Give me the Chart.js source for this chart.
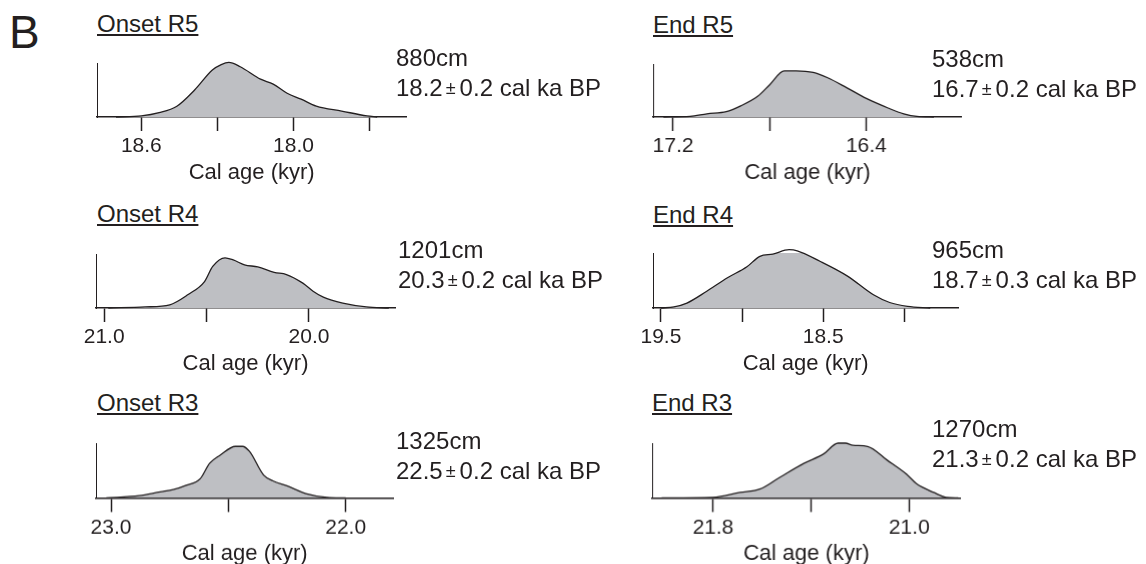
<!DOCTYPE html>
<html>
<head>
<title>Cal age probability</title>
<script src="https://cdn.jsdelivr.net/npm/chart.js"></script>
<style>
    body { margin: 0; background: #fff; font-family: "Liberation Sans", Arial, sans-serif; color: #231f20; }
    #page { position: relative; width: 1146px; height: 564px; overflow: hidden; }
    .panel { position: absolute; }
    .txt { position: absolute; white-space: nowrap; font-size: 24px; }
    .name { line-height: 24px; text-decoration: underline; text-decoration-thickness: 1.6px; text-underline-offset: 2px; }
    .note { line-height: 30px; }
    .pm { font-size: 18px; position: relative; top: -2px; padding: 0 4px 0 3px; }
    #letter { position: absolute; left: 9px; top: 9px; font-size: 46px; line-height: 46px; }
</style>
</head>
<body>
<div id="page">
    <div id="letter">B</div>
</div>
<script>
    // probability curves, age in kyr (old -> young) and relative density
    const onsetR5Age = [18.70, 18.60, 18.53, 18.46, 18.39, 18.32, 18.285, 18.255, 18.21, 18.13, 18.08, 18.025, 17.97, 17.91, 17.81, 17.71, 17.67];
    const onsetR5Den = [0, 0.02, 0.08, 0.20, 0.50, 0.87, 0.97, 1.01, 0.93, 0.70, 0.61, 0.44, 0.33, 0.20, 0.11, 0.02, 0];

    const endR5Age = [17.24, 17.13, 17.06, 16.98, 16.92, 16.85, 16.80, 16.74, 16.69, 16.62, 16.56, 16.48, 16.40, 16.31, 16.245, 16.19, 16.12];
    const endR5Den = [0, 0.01, 0.06, 0.10, 0.21, 0.39, 0.61, 0.87, 0.87, 0.84, 0.74, 0.55, 0.35, 0.17, 0.06, 0.01, 0];

    const onsetR4Age = [20.98, 20.80, 20.68, 20.59, 20.51, 20.47, 20.41, 20.37, 20.315, 20.25, 20.17, 20.11, 20.03, 19.98, 19.93, 19.835, 19.72, 19.61];
    const onsetR4Den = [0, 0.02, 0.06, 0.25, 0.49, 0.77, 0.93, 0.89, 0.80, 0.76, 0.66, 0.62, 0.46, 0.31, 0.20, 0.09, 0.02, 0];

    const endR4Age = [19.50, 19.42, 19.34, 19.22, 19.09, 18.97, 18.89, 18.81, 18.71, 18.66, 18.52, 18.35, 18.19, 18.09, 17.98, 17.84];
    const endR4Den = [0, 0.02, 0.09, 0.30, 0.55, 0.75, 0.94, 0.98, 1.06, 1.04, 0.85, 0.58, 0.24, 0.10, 0.03, 0];

    const onsetR3Age = [23.02, 22.88, 22.79, 22.735, 22.68, 22.62, 22.58, 22.535, 22.47, 22.44, 22.41, 22.35, 22.31, 22.25, 22.17, 22.08, 22.00];
    const onsetR3Den = [0, 0.04, 0.11, 0.15, 0.23, 0.35, 0.63, 0.78, 0.94, 0.94, 0.85, 0.42, 0.31, 0.22, 0.08, 0.01, 0];

    const endR3Age = [22.01, 21.80, 21.69, 21.61, 21.53, 21.43, 21.35, 21.29, 21.26, 21.23, 21.17, 21.09, 21.01, 20.97, 20.90, 20.85, 20.80];
    const endR3Den = [0, 0.01, 0.10, 0.16, 0.37, 0.63, 0.80, 1.00, 1.00, 0.96, 0.94, 0.69, 0.43, 0.26, 0.10, 0.01, 0];

    const panelNames = ['Onset R5', 'End R5', 'Onset R4', 'End R4', 'Onset R3', 'End R3'];
    const depths = ['880cm', '538cm', '1201cm', '965cm', '1325cm', '1270cm'];
    const meanAges = ['18.2', '16.7', '20.3', '18.7', '22.5', '21.3'];
    const errors = ['0.2', '0.2', '0.2', '0.3', '0.2', '0.2'];

    // x range per panel: [oldest, youngest]
    const ageRanges = [[18.775, 17.555], [17.283, 16.005], [21.04, 19.58], [19.549, 17.667], [23.064, 21.797], [22.049, 20.79]];
    const tickValues = [
        [18.6, 18.3, 18.0, 17.7],
        [17.2, 16.8, 16.4],
        [21.0, 20.5, 20.0],
        [19.5, 19.0, 18.5, 18.0],
        [23.0, 22.5, 22.0],
        [21.8, 21.4, 21.0]
    ];
    const tickLabels = [
        ['18.6', '', '18.0', ''],
        ['17.2', '', '16.4'],
        ['21.0', '', '20.0'],
        ['19.5', '', '18.5', ''],
        ['23.0', '', '22.0'],
        ['21.8', '', '21.0']
    ];

    const curves = [
        [onsetR5Age, onsetR5Den], [endR5Age, endR5Den],
        [onsetR4Age, onsetR4Den], [endR4Age, endR4Den],
        [onsetR3Age, onsetR3Den], [endR3Age, endR3Den]
    ];

    // plot areas [left, top, right, bottom] and label spots
    const plotBoxes = [
        [96.7, 63, 406, 117], [653.3, 64.3, 961, 117.3],
        [96, 254.3, 395, 308.3], [652.7, 253.3, 958, 308.3],
        [96, 443.3, 393.3, 497.7], [652.3, 443.3, 960, 497.7]
    ];
    const nameSpots = [[97, 12], [653, 12.5], [97, 202], [653, 202.5], [97, 390.5], [652, 391]];
    const noteSpots = [[396, 42.7], [932, 43.7], [398, 235], [932, 234.7], [396, 426.3], [932, 413.7]];

    const INK = '#231f20';
    const FONT = '"Liberation Sans", Arial, sans-serif';
    const AXIS_H = 69;
    const PAD = { left: 40, right: 30, top: 12 };

    const page = document.getElementById('page');

    panelNames.forEach((name, i) => {
        const box = plotBoxes[i];
        const holder = document.createElement('div');
        holder.className = 'panel';
        holder.style.left = (box[0] - PAD.left) + 'px';
        holder.style.top = (box[1] - PAD.top) + 'px';
        holder.style.width = (box[2] - box[0] + PAD.left + PAD.right) + 'px';
        holder.style.height = (box[3] - box[1] + PAD.top + AXIS_H) + 'px';
        const canvas = document.createElement('canvas');
        holder.appendChild(canvas);
        page.appendChild(holder);

        const title = document.createElement('div');
        title.className = 'txt name';
        title.style.left = nameSpots[i][0] + 'px';
        title.style.top = nameSpots[i][1] + 'px';
        title.textContent = name;
        page.appendChild(title);

        const note = document.createElement('div');
        note.className = 'txt note';
        note.style.left = noteSpots[i][0] + 'px';
        note.style.top = noteSpots[i][1] + 'px';
        note.innerHTML = depths[i] + '<br>' + meanAges[i] + '<span class="pm">±</span>' + errors[i] + ' cal ka BP';
        page.appendChild(note);

        const [ages, dens] = curves[i];

        new Chart(canvas, {
            type: 'line',
            data: {
                datasets: [{
                    data: ages.map((a, k) => ({ x: a, y: dens[k] })),
                    fill: 'origin',
                    backgroundColor: '#bebfc3',
                    borderColor: INK,
                    borderWidth: 1.3,
                    pointRadius: 0,
                    cubicInterpolationMode: 'monotone',
                    clip: false
                }]
            },
            options: {
                responsive: true,
                maintainAspectRatio: false,
                animation: false,
                layout: { padding: { left: PAD.left, right: PAD.right, top: PAD.top, bottom: 0 } },
                plugins: { legend: { display: false }, tooltip: { enabled: false } },
                scales: {
                    x: {
                        type: 'linear',
                        reverse: true,
                        min: ageRanges[i][1],
                        max: ageRanges[i][0],
                        afterBuildTicks: s => { s.ticks = tickValues[i].map(v => ({ value: v })); },
                        afterFit: s => { s.height = AXIS_H; },
                        ticks: {
                            autoSkip: false,
                            maxRotation: 0,
                            padding: 3,
                            color: INK,
                            font: { family: FONT, size: 21 },
                            callback: (v, idx) => tickLabels[i][idx]
                        },
                        grid: { drawOnChartArea: false, tickLength: 14, tickColor: INK, tickWidth: 1.5 },
                        border: { color: INK, width: 1.5 },
                        title: {
                            display: true,
                            text: 'Cal age (kyr)',
                            color: INK,
                            font: { family: FONT, size: 22 },
                            padding: { top: 0, bottom: 0 }
                        }
                    },
                    y: {
                        min: 0,
                        max: 1,
                        ticks: { display: false },
                        grid: { display: false, drawTicks: false },
                        border: { display: true, color: INK, width: 1 }
                    }
                }
            }
        });
    });
</script>
</body>
</html>
